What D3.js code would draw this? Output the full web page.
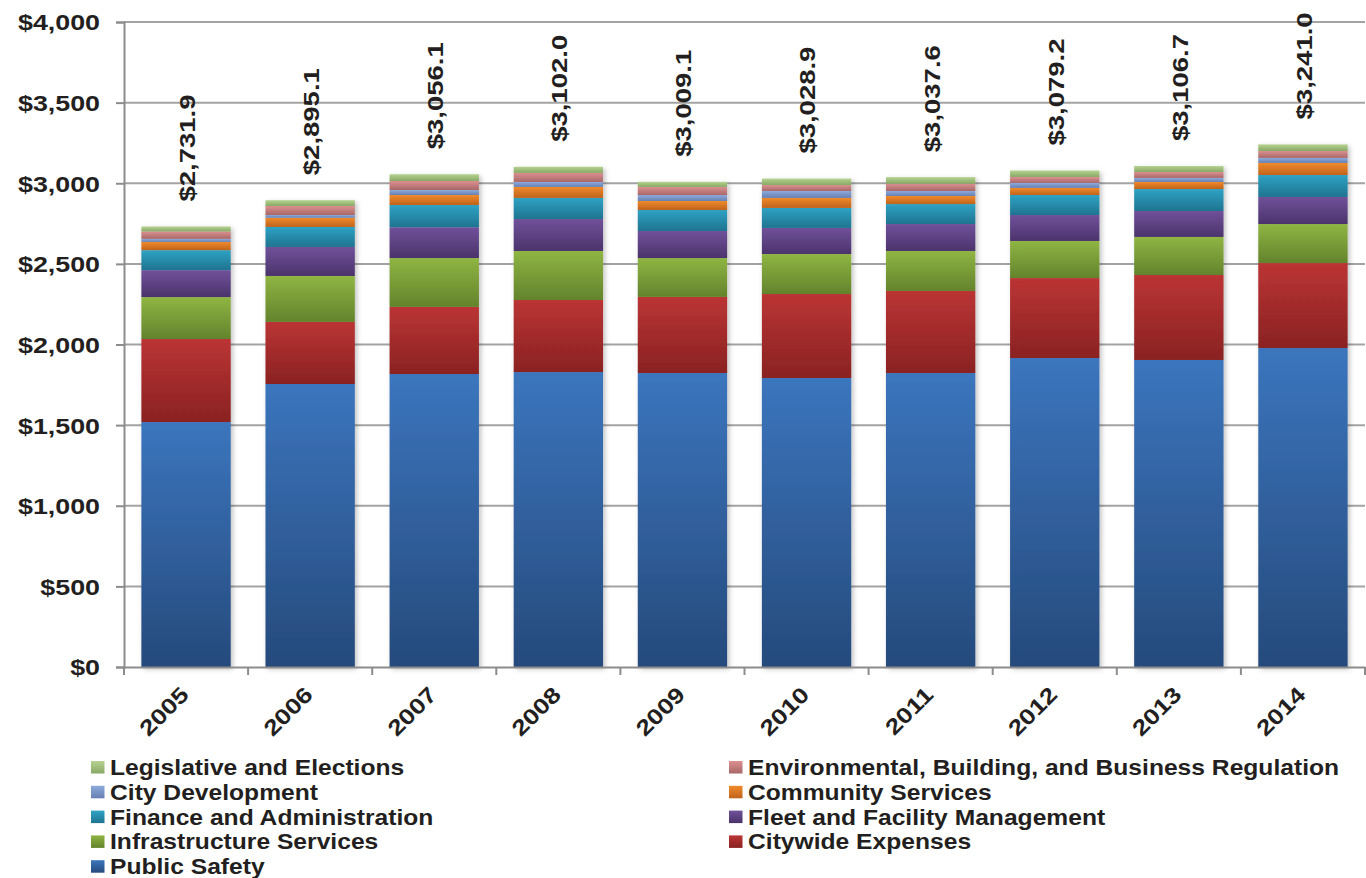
<!DOCTYPE html>
<html><head><meta charset="utf-8">
<script src="https://cdn.jsdelivr.net/npm/d3@7"></script>
<style>body{margin:0;background:#fff;}svg{display:block;font-family:"Liberation Sans",Arial,sans-serif;}</style>
</head><body>
<svg id="chart" width="1366" height="878"></svg>
<script>
const years = ["2005","2006","2007","2008","2009","2010","2011","2012","2013","2014"];
const totals = [2731.9,2895.1,3056.1,3102.0,3009.1,3028.9,3037.6,3079.2,3106.7,3241.0];
const seriesNames = ["Public Safety","Citywide Expenses","Infrastructure Services","Fleet and Facility Management","Finance and Administration","Community Services","City Development","Environmental, Building, and Business Regulation","Legislative and Elections"];
const publicSafety   = [1519,1755,1817,1829,1823,1792,1823,1916,1904,1978];
const citywide       = [515,385,416,447,472,521,509,496,527,527];
const infrastructure = [260,285,303,304,241,248,248,230,236,242];
const fleet          = [167,180,191,198,168,162,167,161,161,168];
const finance        = [124,124,138,131,130,124,124,124,136,136];
const community      = [51,57,62,68,56,62,50,44,44,75];
const cityDev        = [19,17,31,31,37,43,31,31,25,31];
const envReg         = [46,56,56,56,50,37,45,37,37,43];
const legislative    = [31,36,42,38,32,40,41,40,37,41];
const yTicks = [0,500,1000,1500,2000,2500,3000,3500,4000];
const colorsTop = ["#3b75bd","#bb3434","#8fb543","#70519a","#2fa2c4","#f08a2c","#8ea9db","#dc9090","#b6d390"];
const colorsBot = ["#264a7c","#8a2222","#63832c","#4b336c","#1e7490","#bf631c","#6680b2","#a86868","#88a866"];

const seriesVals = [publicSafety,citywide,infrastructure,fleet,finance,community,cityDev,envReg,legislative];

const svg = d3.select("#chart");
const defs = svg.append("defs");
seriesNames.forEach((n,i)=>{
  const g = defs.append("linearGradient").attr("id","g"+i).attr("x1",0).attr("y1",0).attr("x2",0).attr("y2",1);
  g.append("stop").attr("offset","0%").attr("stop-color",colorsTop[i]);
  g.append("stop").attr("offset","100%").attr("stop-color",colorsBot[i]);
});
const f = defs.append("filter").attr("id","sh").attr("x","-10%").attr("y","-10%").attr("width","130%").attr("height","130%");
f.append("feDropShadow").attr("dx",2).attr("dy",2).attr("stdDeviation",2.5).attr("flood-color","#000").attr("flood-opacity",0.25);

const FS = 22, TXT = "#231f20";
const mLeft = 124, mRight = 1365, mTop = 22, mBottom = 667;
const x = d3.scaleBand().domain(years).range([mLeft,mRight]).paddingInner(0.28).paddingOuter(0.14);
const y = d3.scaleLinear().domain([0,4000]).range([mBottom,mTop]);

// gridlines
svg.append("g").selectAll("line").data(yTicks.slice(1)).join("line")
  .attr("x1",mLeft).attr("x2",mRight).attr("y1",d=>y(d)).attr("y2",d=>y(d))
  .attr("stroke","#a3a3a3").attr("stroke-width",2);

// y axis
const yAxis = d3.axisLeft(y).tickValues(yTicks).tickSize(8).tickFormat(d=>"$"+d3.format(",")(d));
const ya = svg.append("g").attr("transform",`translate(${mLeft},0)`).call(yAxis);
ya.select(".domain").attr("stroke","#8c8c8c").attr("stroke-width",2);
ya.selectAll(".tick line").attr("stroke","#8c8c8c").attr("stroke-width",2);
ya.selectAll("text").attr("font-size",FS).attr("font-weight","bold").attr("fill",TXT)
  .attr("x",0).attr("dy","0.36em").attr("transform","translate(-24,0) scale(1.22,1)");

// stack
const table = years.map((yr,j)=>{const o={year:yr}; seriesNames.forEach((n,i)=>o[n]=seriesVals[i][j]); return o;});
const stacked = d3.stack().keys(seriesNames)(table);

const barsG = svg.append("g");
years.forEach((yr,j)=>{
  const g = barsG.append("g").attr("filter","url(#sh)");
  stacked.forEach((s,i)=>{
    const d = s[j];
    g.append("rect").attr("x",x(yr)).attr("width",x.bandwidth())
      .attr("y",y(d[1])).attr("height",y(d[0])-y(d[1]))
      .attr("fill",`url(#g${i})`);
  });
});

// x axis
const xAxis = d3.axisBottom(x).tickSize(0).tickFormat(d=>d);
const xa = svg.append("g").attr("transform",`translate(0,${mBottom})`).call(xAxis);
xa.select(".domain").attr("stroke","#8c8c8c").attr("stroke-width",2);
xa.selectAll("text").attr("font-size",FS).attr("font-weight","bold").attr("fill",TXT)
  .attr("text-anchor","end").attr("dy",0).attr("y",0)
  .attr("transform","translate(4,29) rotate(-45) scale(1.2,1)");
// category separator ticks
const step = x.step();
svg.append("g").selectAll("line").data(d3.range(years.length+1)).join("line")
  .attr("x1",d=>x(years[0]) - (step - x.bandwidth())/2 + d*step)
  .attr("x2",d=>x(years[0]) - (step - x.bandwidth())/2 + d*step)
  .attr("y1",mBottom).attr("y2",mBottom+8).attr("stroke","#8c8c8c").attr("stroke-width",2);

// total labels
svg.append("g").selectAll("text").data(years).join("text")
  .attr("transform",(d,j)=>`translate(${x(d)+x.bandwidth()/2+1},${y(totals[j])-25}) rotate(-90) scale(1.25,1)`)
  .attr("dy","0.36em")
  .attr("font-size",FS).attr("font-weight","bold").attr("fill",TXT)
  .text((d,j)=>"$"+d3.format(",.1f")(totals[j]));

// legend
const legendOrder = [8,7,6,5,4,3,2,1,0];
const lg = svg.append("g");
legendOrder.forEach((si,k)=>{
  const col = k%2, row = Math.floor(k/2);
  const lx = col===0 ? 91 : 729, ly = 767 + row*24.8;
  lg.append("rect").attr("x",lx).attr("y",ly-6).attr("width",13.5).attr("height",12.5).attr("fill",`url(#g${si})`);
  lg.append("text").attr("transform",`translate(${lx+19},${ly}) scale(1.12,1)`).attr("dy","0.36em")
    .attr("font-size",FS).attr("font-weight","bold").attr("fill",TXT).text(seriesNames[si]);
});
</script>
</body></html>
